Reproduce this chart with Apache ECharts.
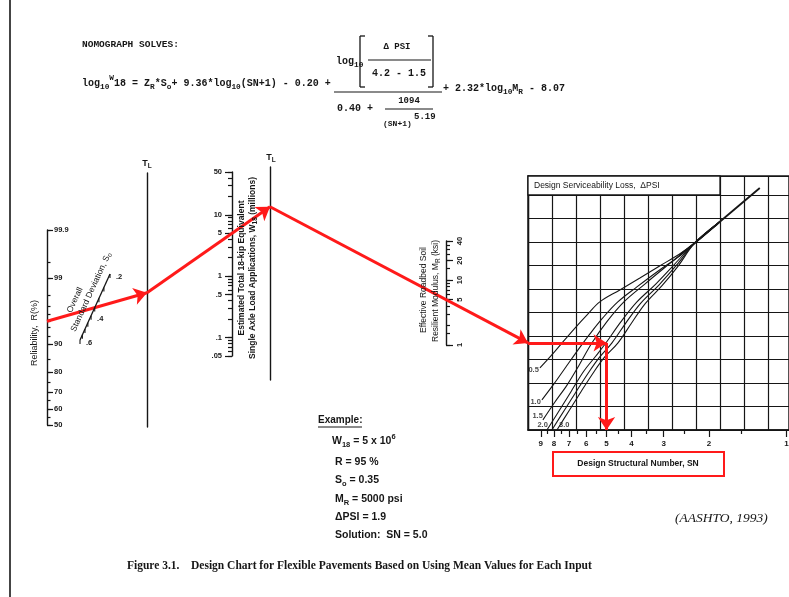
<!DOCTYPE html>
<html>
<head>
<meta charset="utf-8">
<title>Design Chart for Flexible Pavements</title>
<script src="https://cdn.jsdelivr.net/npm/echarts@6/dist/echarts.min.js"></script>
<style>
  html, body { margin: 0; padding: 0; background: #ffffff; }
  #chart { width: 789px; height: 597px; }
</style>
</head>
<body>
<div id="chart"></div>
<script>
// ---------- scale values ----------
const relTicks   = [99.9, 99.5, 99, 98, 97, 96, 95, 94, 92, 90, 85, 80, 75, 70, 65, 60, 55, 50];
const relLabels  = [99.9, 99, 90, 80, 70, 60, 50];
const soTicks    = [0.2, 0.25, 0.3, 0.35, 0.4, 0.45, 0.5, 0.55, 0.6];
const soLabels   = [0.2, 0.4, 0.6];
const w18Ticks   = [50, 40, 30, 20, 10, 9, 8, 7, 6, 5, 4, 3, 2, 1, 0.9, 0.8, 0.7, 0.6, 0.5, 0.4, 0.3, 0.2, 0.1, 0.09, 0.08, 0.07, 0.06, 0.05];
const w18Labels  = [50, 10, 5, 1, 0.5, 0.1, 0.05];
const mrTicks    = [40, 35, 30, 25, 20, 15, 10, 9, 8, 7, 6, 5, 4, 3, 2, 1.5, 1];
const mrLabels   = [40, 20, 10, 5, 1];
const snTicks    = [1.5, 2.5, 3.5, 4.5, 5.5, 6.5, 7.5, 8.5];
const snLabels   = [9, 8, 7, 6, 5, 4, 3, 2, 1];

// ---------- design serviceability loss curves: [SN, chart row] ----------
const psiNames = ['0.5', '1.0', '1.5', '2.0', '2.5', '3.0'];
const psi05 = [[9.07,2.64],[8.22,3.15],[7.45,3.70],[6.63,4.34],[5.96,4.89],[5.31,5.45],[4.44,5.96],[3.71,6.47],[3.11,6.98],[2.60,7.49],[2.27,7.96],[1.82,8.85]];
const psi10 = [[8.91,1.28],[8.00,1.96],[7.19,2.68],[6.46,3.40],[5.80,4.09],[5.17,4.77],[4.52,5.45],[3.81,6.09],[3.11,6.81],[2.60,7.40],[2.27,7.96],[1.82,8.85]];
const psi15 = [[8.83,0.43],[7.93,1.19],[7.12,1.91],[6.35,2.81],[5.70,3.70],[4.99,4.60],[4.28,5.45],[3.55,6.21],[2.89,7.02],[2.27,7.96],[1.82,8.85]];
const psi20 = [[8.52,0],[7.65,0.81],[6.88,1.62],[6.12,2.51],[5.50,3.15],[5.03,3.70],[4.40,4.60],[3.81,5.45],[3.22,6.21],[2.74,7.02],[2.27,7.96],[1.82,8.85]];
const psi25 = [[8.15,0],[7.32,0.81],[6.57,1.62],[5.85,2.47],[5.31,3.11],[4.77,3.70],[4.21,4.55],[3.68,5.40],[3.13,6.17],[2.69,6.98],[2.27,7.96],[1.82,8.85]];
const psi30 = [[7.79,0],[7.00,0.81],[6.29,1.62],[5.60,2.47],[5.08,3.11],[4.52,3.70],[4.02,4.51],[3.55,5.36],[3.05,6.13],[2.65,6.94],[2.27,7.96],[1.82,8.85]];
const trunk = [[2.60,7.45],[2.27,7.96],[1.82,8.85],[1.27,10.30]];

// ---------- worked example ----------
const exR = 95, exSo = 0.35, exW18 = 5, exMR = 5, exPSI = 1.9, exSN = 5.0;

// ---------- look ----------
const INK = '#161616';
const RED = '#ff1a1a';
const MONO = "'Liberation Mono', 'DejaVu Sans Mono', monospace";
const SANS = "'Liberation Sans', 'DejaVu Sans', sans-serif";
const SERIF = "'Liberation Serif', 'DejaVu Serif', serif";

// placement of the scales on the page
const L = {
  rel: { left: 47,  top: 230, height: 195 },
  tl1: { left: 147, top: 173, height: 254 },
  w18: { left: 232, top: 172, height: 184 },
  tl2: { left: 270, top: 167, height: 213 },
  mr:  { left: 446, top: 241, height: 104 },
  dsn: { left: 528, top: 176, width: 261, height: 254 },
  cell: 24, row: 23.5,
  soTop: [110, 274], soBot: [80, 340]
};
const snMin = 0.978, snMax = 10.09;

// inverse of the standard normal distribution (Acklam)
function probit(p) {
  const a = [-3.969683028665376e+01, 2.209460984245205e+02, -2.759285104469687e+02, 1.383577518672690e+02, -3.066479806614716e+01, 2.506628277459239e+00];
  const b = [-5.447609879822406e+01, 1.615858368580409e+02, -1.556989798598866e+02, 6.680131188771972e+01, -1.328068155288572e+01];
  const c = [-7.784894002430293e-03, -3.223964580411365e-01, -2.400758277161838e+00, -2.549732539343734e+00, 4.374664141464968e+00, 2.938163982698783e+00];
  const d = [7.784695709041462e-03, 3.224671290700398e-01, 2.445134137142996e+00, 3.754408661907416e+00];
  const pl = 0.02425, ph = 1 - pl;
  let q, r;
  if (p < pl) { q = Math.sqrt(-2 * Math.log(p)); return (((((c[0]*q+c[1])*q+c[2])*q+c[3])*q+c[4])*q+c[5]) / ((((d[0]*q+d[1])*q+d[2])*q+d[3])*q+1); }
  if (p > ph) { q = Math.sqrt(-2 * Math.log(1 - p)); return -(((((c[0]*q+c[1])*q+c[2])*q+c[3])*q+c[4])*q+c[5]) / ((((d[0]*q+d[1])*q+d[2])*q+d[3])*q+1); }
  q = p - 0.5; r = q * q;
  return (((((a[0]*r+a[1])*r+a[2])*r+a[3])*r+a[4])*r+a[5])*q / (((((b[0]*r+b[1])*r+b[2])*r+b[3])*r+b[4])*r+1);
}
const zOf = r => Math.max(0, probit(r / 100));
const relZMax = zOf(99.9);
const relTickZ = relTicks.map(zOf);
const relLabelZ = relLabels.map(zOf);
const relText = v => {
  let best = 0;
  relLabelZ.forEach((z, i) => { if (Math.abs(z - v) < Math.abs(relLabelZ[best] - v)) best = i; });
  return String(relLabels[best]);
};
const smallNum = v => {
  const n = Number(Number(v).toPrecision(3));
  return n < 1 ? String(n).replace(/^0\./, '.') : String(n);
};

const tickStyle = { color: INK, width: 1.2 };
const labelFont = { color: INK, fontFamily: SANS, fontWeight: 'bold', fontSize: 7.5 };

const chart = echarts.init(document.getElementById('chart'), null, { renderer: 'canvas', width: 789, height: 597 });

// ---------- axes ----------
const hiddenX = (g, max) => ({ gridIndex: g, type: 'value', min: 0, max: max || 1, show: false });
const bareY = g => ({
  gridIndex: g, type: 'value', min: 0, max: 1, position: 'left',
  axisLine: { show: true, lineStyle: { color: INK, width: 1.4 } },
  axisTick: { show: false }, axisLabel: { show: false }, splitLine: { show: false }
});

const xAxis = [
  hiddenX(0, 789), hiddenX(1), hiddenX(2), hiddenX(3), hiddenX(4), hiddenX(5),
  { // structural number, major ticks and numbers
    gridIndex: 6, type: 'log', min: snMin, max: snMax, inverse: true, position: 'bottom',
    axisLine: { show: true, lineStyle: { color: INK, width: 1.5 } },
    axisTick: { show: true, length: 7, customValues: snLabels, lineStyle: tickStyle },
    axisLabel: Object.assign({ show: true, customValues: snLabels, margin: 10 }, labelFont, { fontSize: 8 }),
    splitLine: { show: false }
  },
  { // structural number, half steps
    gridIndex: 6, type: 'log', min: snMin, max: snMax, inverse: true, position: 'bottom',
    axisLine: { show: false },
    axisTick: { show: true, length: 4, customValues: snTicks, lineStyle: tickStyle },
    axisLabel: { show: false }, splitLine: { show: false }
  },
  { // graph-paper columns
    gridIndex: 6, type: 'value', min: 0, max: L.dsn.width / L.cell, interval: 1, position: 'top',
    axisLine: { show: false }, axisTick: { show: false }, axisLabel: { show: false },
    splitLine: { show: true, lineStyle: { color: INK, width: 1.2 } }
  }
];

const yAxis = [
  { gridIndex: 0, type: 'value', min: 0, max: 597, inverse: true, show: false },
  { // reliability, normal-deviate spacing
    gridIndex: 1, type: 'value', min: 0, max: relZMax, position: 'left',
    axisLine: { show: true, lineStyle: { color: INK, width: 1.4 } },
    axisTick: { show: true, inside: true, length: 6, customValues: relLabelZ, lineStyle: tickStyle },
    axisLabel: Object.assign({ show: true, inside: true, margin: 7, customValues: relLabelZ, formatter: relText }, labelFont),
    splitLine: { show: false }
  },
  {
    gridIndex: 1, type: 'value', min: 0, max: relZMax, position: 'left',
    axisLine: { show: false },
    axisTick: { show: true, inside: true, length: 3.5, customValues: relTickZ, lineStyle: tickStyle },
    axisLabel: { show: false }, splitLine: { show: false }
  },
  bareY(2),
  { // 18-kip ESAL, millions
    gridIndex: 3, type: 'log', min: 0.05, max: 50, position: 'left',
    axisLine: { show: true, lineStyle: { color: INK, width: 1.4 } },
    axisTick: { show: true, length: 7, customValues: w18Labels, lineStyle: tickStyle },
    axisLabel: Object.assign({ show: true, margin: 10, customValues: w18Labels, formatter: smallNum }, labelFont),
    splitLine: { show: false }
  },
  {
    gridIndex: 3, type: 'log', min: 0.05, max: 50, position: 'left',
    axisLine: { show: false },
    axisTick: { show: true, length: 4, customValues: w18Ticks, lineStyle: tickStyle },
    axisLabel: { show: false }, splitLine: { show: false }
  },
  bareY(4),
  { // roadbed resilient modulus, ksi
    gridIndex: 5, type: 'log', min: 1, max: 40, position: 'left',
    axisLine: { show: true, lineStyle: { color: INK, width: 1.4 } },
    axisTick: { show: true, inside: true, length: 7, customValues: mrLabels, lineStyle: tickStyle },
    axisLabel: Object.assign({ show: true, inside: true, margin: 10, rotate: 90, customValues: mrLabels, formatter: smallNum }, labelFont),
    splitLine: { show: false }
  },
  {
    gridIndex: 5, type: 'log', min: 1, max: 40, position: 'left',
    axisLine: { show: false },
    axisTick: { show: true, inside: true, length: 4, customValues: mrTicks, lineStyle: tickStyle },
    axisLabel: { show: false }, splitLine: { show: false }
  },
  { // design chart rows
    gridIndex: 6, type: 'value', min: 0, max: L.dsn.height / L.row, interval: 1, position: 'left',
    axisLine: { show: true, lineStyle: { color: INK, width: 1.4 } },
    axisTick: { show: false }, axisLabel: { show: false },
    splitLine: { show: true, lineStyle: { color: INK, width: 1.2 } }
  }
];

const fixed = { outerBoundsMode: 'none', containLabel: false };
const grid = [
  Object.assign({ left: 0, top: 0, width: 789, height: 597 }, fixed),
  Object.assign({ left: L.rel.left, top: L.rel.top, width: 20, height: L.rel.height }, fixed),
  Object.assign({ left: L.tl1.left, top: L.tl1.top, width: 20, height: L.tl1.height }, fixed),
  Object.assign({ left: L.w18.left, top: L.w18.top, width: 20, height: L.w18.height }, fixed),
  Object.assign({ left: L.tl2.left, top: L.tl2.top, width: 20, height: L.tl2.height }, fixed),
  Object.assign({ left: L.mr.left,  top: L.mr.top,  width: 20, height: L.mr.height }, fixed),
  Object.assign({ left: L.dsn.left, top: L.dsn.top, width: L.dsn.width, height: L.dsn.height,
    show: true, borderColor: INK, borderWidth: 1.4, backgroundColor: 'transparent' }, fixed)
];

// ---------- series ----------
const psiCurves = [psi05, psi10, psi15, psi20, psi25, psi30];
const psiLabelStyle = [
  { position: 'left', offset: [1, 2] },
  { position: 'left', offset: [1, 2] },
  { position: 'left', offset: [2, -4] },
  { position: 'left', offset: [3, -5] },
  null,
  { position: 'right', offset: [0, -5] }
];
const series = psiCurves.map((d, i) => ({
  type: 'line', name: 'ΔPSI ' + psiNames[i], xAxisIndex: 6, yAxisIndex: 9,
  data: d, smooth: 0.35, symbol: 'none', showSymbol: false, silent: true, z: 3,
  lineStyle: { color: INK, width: 1.1 }
}));
series.push({
  type: 'line', name: 'trunk', xAxisIndex: 6, yAxisIndex: 9, data: trunk,
  smooth: 0.3, symbol: 'none', showSymbol: false, silent: true, z: 3,
  lineStyle: { color: INK, width: 1.8 }
});
series.push({
  type: 'scatter', name: 'psiLabels', xAxisIndex: 6, yAxisIndex: 9, symbolSize: 0.1, silent: true, z: 4,
  itemStyle: { color: 'rgba(0,0,0,0)' },
  data: psiCurves.map((d, i) => {
    const ls = psiLabelStyle[i];
    return {
      value: d[0],
      label: ls ? { show: true, position: ls.position, offset: ls.offset, distance: 2, formatter: psiNames[i],
                    color: INK, fontFamily: SANS, fontWeight: 'bold', fontSize: 7.5 } : { show: false }
    };
  })
});
series.push({
  id: 'solution', type: 'lines', coordinateSystem: 'cartesian2d', xAxisIndex: 0, yAxisIndex: 0,
  symbol: ['none', 'arrow'], symbolSize: 13, silent: true, z: 20,
  lineStyle: { color: RED, width: 3, opacity: 1, curveness: 0 },
  data: []
});

// ---------- printed text and drawn furniture ----------
const G = [];
const txt = (x, y, text, style, rot) => G.push({
  type: 'text', x, y, rotation: rot || 0, silent: true, z: 60,
  style: Object.assign({ text, fill: INK, fontFamily: SANS, fontSize: 9, fontWeight: 'bold', align: 'left', verticalAlign: 'middle' }, style || {})
});
const seg = (x1, y1, x2, y2, w, color) => G.push({
  type: 'line', silent: true, z: 55, shape: { x1, y1, x2, y2 }, style: { stroke: color || INK, lineWidth: w || 1.2 }
});
// typewritten equation piece by piece (monospace advance 0.6 em)
const eqRow = (x, y, parts, fs) => {
  let cx = x;
  parts.forEach(([t, k]) => {
    const size = k === 'n' ? fs : fs * 0.78;
    const dy = k === 's' ? fs * 0.38 : (k === 'p' ? -fs * 0.5 : 0);
    txt(cx, y + dy, t, { fontFamily: MONO, fontSize: size, fontWeight: 'bold' });
    cx += t.length * size * 0.6;
  });
  return cx;
};

// page rule on the left
seg(10, 0, 10, 597, 1.6);

// heading and equation
txt(82, 45, 'NOMOGRAPH SOLVES:', { fontFamily: MONO, fontSize: 9.5, fontWeight: 'bold' });
eqRow(82, 83, [['log', 'n'], ['10', 's'], ['W', 'p'], ['18', 'n'], [' = Z', 'n'], ['R', 's'], ['*S', 'n'], ['o', 's'],
               ['+ 9.36*log', 'n'], ['10', 's'], ['(SN+1) - 0.20 +', 'n']], 10);
eqRow(443, 88, [['+ 2.32*log', 'n'], ['10', 's'], ['M', 'n'], ['R', 's'], [' - 8.07', 'n']], 10);
eqRow(336, 61, [['log', 'n'], ['10', 's']], 10);
// bracket around the ΔPSI ratio
seg(360, 36, 360, 87, 1.3); seg(360, 36, 365, 36, 1.3); seg(360, 87, 365, 87, 1.3);
seg(433, 36, 433, 87, 1.3); seg(433, 36, 428, 36, 1.3); seg(433, 87, 428, 87, 1.3);
txt(397, 47, 'Δ PSI', { fontFamily: MONO, fontSize: 9, align: 'center' });
seg(368, 60, 431, 60, 1.1);
txt(399, 73, '4.2 - 1.5', { fontFamily: MONO, fontSize: 10, align: 'center' });
seg(334, 92, 442, 92, 1.2);
txt(337, 108, '0.40 +', { fontFamily: MONO, fontSize: 10 });
txt(409, 101, '1094', { fontFamily: MONO, fontSize: 9, align: 'center' });
seg(385, 109, 433, 109, 1.1);
txt(383, 124, '(SN+1)', { fontFamily: MONO, fontSize: 8 });
txt(414, 117, '5.19', { fontFamily: MONO, fontSize: 9 });

// turning lines
const tlRich = { s: { fontSize: 6.5, fontFamily: SANS, fontWeight: 'bold', fill: INK, verticalAlign: 'bottom', lineHeight: 8 } };
txt(147, 164, 'T{s|L}', { fontSize: 9, align: 'center', lineHeight: 12, rich: tlRich });
txt(271, 158, 'T{s|L}', { fontSize: 9, align: 'center', lineHeight: 12, rich: tlRich });

// axis names
txt(35, 333, 'Reliability,  R(%)', { fontSize: 9, fontWeight: 'normal', align: 'center' }, Math.PI / 2);
const subRich = { s: { fontSize: 6.5, fontFamily: SANS, fontWeight: 'bold', fill: INK, verticalAlign: 'bottom', lineHeight: 7 } };
txt(242, 268, 'Estimated Total 18-kip Equivalent', { fontSize: 8.5, align: 'center' }, Math.PI / 2);
txt(253, 268, 'Single Axle Load Applications, W{s|18} (millions)', { fontSize: 8.5, align: 'center', lineHeight: 11, rich: subRich }, Math.PI / 2);
txt(424, 290, 'Effective Roadbed Soil', { fontSize: 8.5, fontWeight: 'normal', align: 'center' }, Math.PI / 2);
txt(436, 291, 'Resilient Modulus, M{s|R} (ksi)', { fontSize: 8.5, fontWeight: 'normal', align: 'center', lineHeight: 11,
  rich: { s: Object.assign({}, subRich.s, { fontWeight: 'normal' }) } }, Math.PI / 2);

// overall standard deviation: slanted logarithmic scale
const soPt = so => {
  const t = Math.log(so / soTicks[0]) / Math.log(soTicks[soTicks.length - 1] / soTicks[0]);
  return [L.soTop[0] + (L.soBot[0] - L.soTop[0]) * t, L.soTop[1] + (L.soBot[1] - L.soTop[1]) * t];
};
(function () {
  const a = soPt(soTicks[0]), b = soPt(soTicks[soTicks.length - 1]);
  seg(a[0], a[1], b[0], b[1], 1.3);
  soTicks.forEach(v => { const p = soPt(v); seg(p[0], p[1], p[0], p[1] + 4, 1.1); });
  soLabels.forEach(v => { const p = soPt(v); txt(p[0] + 6, p[1] + 3, smallNum(v), { fontSize: 7.5 }); });
  const rot = -Math.atan2(a[1] - b[1], a[0] - b[0]);
  txt(75, 300, 'Overall', { fontSize: 8.5, fontWeight: 'normal', align: 'center' }, rot);
  txt(91, 292, 'Standard Deviation, S{s|o}', { fontSize: 8.5, fontWeight: 'normal', align: 'center', lineHeight: 11,
    rich: { s: Object.assign({}, subRich.s, { fontWeight: 'normal' }) } }, rot);
})();

// design chart caption box
G.push({ type: 'rect', silent: true, z: 40, shape: { x: 528, y: 176, width: 192, height: 19 },
         style: { fill: '#ffffff', stroke: INK, lineWidth: 1.3 } });
txt(534, 186, 'Design Serviceability Loss,  ΔPSI', { fontSize: 8.5, fontWeight: 'normal' });

// structural number name in its red frame
G.push({ type: 'rect', silent: true, z: 55, shape: { x: 553, y: 452, width: 171, height: 24 },
         style: { fill: 'none', stroke: RED, lineWidth: 2 } });
txt(638, 464, 'Design Structural Number, SN', { fontSize: 8.5, align: 'center' });

// worked example
const exRich = {
  s: { fontSize: 7.5, fontFamily: SANS, fontWeight: 'bold', fill: INK, verticalAlign: 'bottom', lineHeight: 9 },
  p: { fontSize: 7.5, fontFamily: SANS, fontWeight: 'bold', fill: INK, verticalAlign: 'top', lineHeight: 9 }
};
const exStyle = { fontSize: 10.5, lineHeight: 16, rich: exRich };
txt(318, 420, 'Example:', { fontSize: 10 });
seg(318, 427, 362, 427, 1);
txt(332, 441, 'W{s|18} = 5 x 10{p|6}', exStyle);
txt(335, 462, 'R = ' + exR + ' %', exStyle);
txt(335, 480, 'S{s|o} = ' + exSo.toFixed(2), exStyle);
txt(335, 499, 'M{s|R} = ' + (exMR * 1000) + ' psi', exStyle);
txt(335, 517, 'ΔPSI = ' + exPSI.toFixed(1), exStyle);
txt(335, 535, 'Solution:  SN = ' + exSN.toFixed(1), exStyle);

// source and figure caption
txt(675, 518, '(AASHTO, 1993)', { fontFamily: SERIF, fontStyle: 'italic', fontWeight: 'normal', fontSize: 13.5 });
txt(127, 566, 'Figure 3.1.    Design Chart for Flexible Pavements Based on Using Mean Values for Each Input',
    { fontFamily: SERIF, fontWeight: 'bold', fontSize: 11.5 });

chart.setOption({
  animation: false,
  backgroundColor: '#ffffff',
  grid, xAxis, yAxis, series,
  graphic: { elements: G }
});

// ---------- solution path, worked through the scales ----------
const px = (xi, yi, v) => chart.convertToPixel({ xAxisIndex: xi, yAxisIndex: yi }, v);
const through = (a, b, x) => [x, a[1] + (b[1] - a[1]) * (x - a[0]) / (b[0] - a[0])];

const pR   = px(1, 1, [0, zOf(exR)]);
const pTL1 = through(pR, soPt(exSo), px(2, 3, [0, 0])[0]);
const pW   = px(3, 4, [0, exW18]);
const pTL2 = through(pTL1, pW, px(4, 6, [0, 0])[0]);
const pM   = px(5, 7, [0, exMR]);
const pPiv = through(pTL2, pM, px(6, 9, [snMax, 0])[0]);
const rowPiv = chart.convertFromPixel({ xAxisIndex: 6, yAxisIndex: 9 }, pPiv)[1];
const pSol  = px(6, 9, [exSN, rowPiv]);
const pBase = px(6, 9, [exSN, 0]);

const toPage = p => chart.convertFromPixel({ xAxisIndex: 0, yAxisIndex: 0 }, p);
const legs = [[pR, pTL1], [pTL1, pTL2], [pTL2, pPiv], [pPiv, pSol], [pSol, pBase]];
chart.setOption({
  series: [{ id: 'solution', data: legs.map(l => ({ coords: [toPage(l[0]), toPage(l[1])] })) }]
});
</script>
</body>
</html>
